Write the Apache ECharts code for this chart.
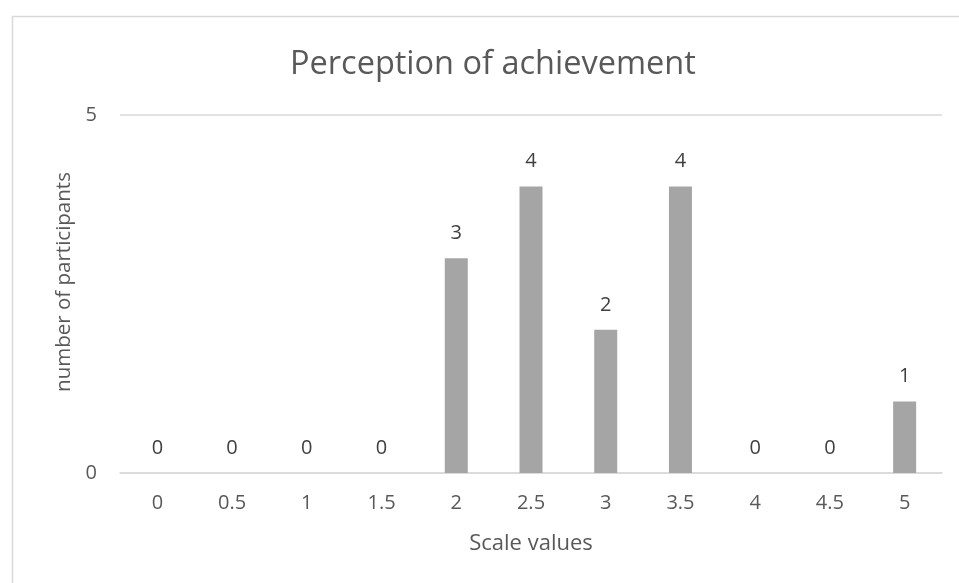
<!DOCTYPE html>
<html><head><meta charset="utf-8">
<script src="https://cdn.jsdelivr.net/npm/echarts@6/dist/echarts.min.js"></script>
<style>html,body{margin:0;padding:0;background:#fff}#c{width:959px;height:583px}</style>
</head><body><div id="c"></div>
<script>
const categories = ['0','0.5','1','1.5','2','2.5','3','3.5','4','4.5','5'];
const participants = [0,0,0,0,3,4,2,4,0,0,1];
const yTicks = [0,5];
const chart = echarts.init(document.getElementById('c'));
chart.setOption({
  animation:false,
  graphic:[{type:'rect',shape:{x:12.5,y:16.5,width:960,height:600},style:{fill:'none',stroke:'#d9d9d9',lineWidth:1.5}}],
  title:{text:'Perception of achievement',left:290,top:48,padding:0,textStyle:{fontFamily:'Open Sans',fontSize:32.5,fontWeight:'normal',color:'#595959'}},
  grid:{left:120,right:17,top:115,bottom:110},
  xAxis:{type:'category',data:categories,name:'Scale values',nameLocation:'middle',nameGap:60,
    nameTextStyle:{fontFamily:'Open Sans',fontSize:22,color:'#595959'},
    axisLine:{lineStyle:{color:'#d9d9d9',width:1.5}},axisTick:{show:false},
    axisLabel:{fontFamily:'Open Sans',fontSize:20,color:'#595959',margin:20}},
  yAxis:{type:'value',min:yTicks[0],max:yTicks[1],interval:5,name:'number of participants',nameLocation:'middle',nameGap:44,
    nameTextStyle:{fontFamily:'Open Sans',fontSize:20.5,color:'#595959',padding:[0,0,0,24]},
    axisLine:{show:false},axisTick:{show:false},
    axisLabel:{fontFamily:'Open Sans',fontSize:20,color:'#595959',margin:23},
    splitLine:{lineStyle:{color:'#d9d9d9',width:1.5}}},
  series:[{type:'bar',data:participants,barWidth:23,itemStyle:{color:'#a5a5a5'},
    label:{show:true,position:'top',distance:15,fontFamily:'Open Sans',fontSize:20,color:'#404040'}}]
});
</script></body></html>
